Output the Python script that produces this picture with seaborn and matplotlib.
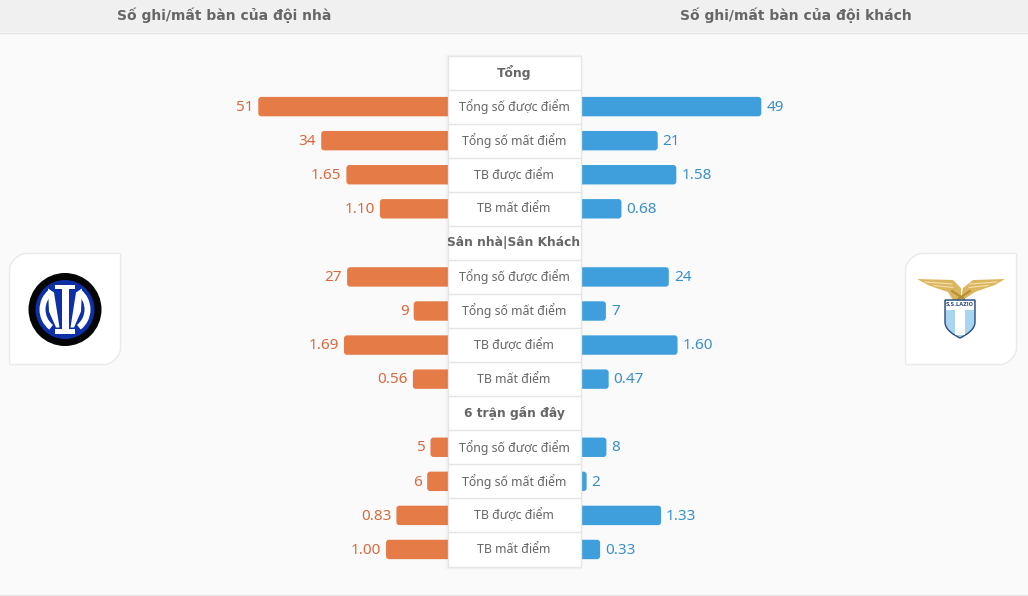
import pandas as pd
import matplotlib
matplotlib.use("Agg")
import matplotlib.pyplot as plt
import seaborn as sns
from matplotlib.patches import FancyBboxPatch, Circle, Polygon, PathPatch, Rectangle, Wedge
from matplotlib.path import Path

# === data === #
title_home = "Số ghi/mất bàn của đội nhà"
title_away = "Số ghi/mất bàn của đội khách"

# rows top to bottom, the section headers have no bars
rows = ["Tổng",
        "Tổng số được điểm", "Tổng số mất điểm", "TB được điểm", "TB mất điểm",
        "Sân nhà|Sân Khách",
        "Tổng số được điểm", "Tổng số mất điểm", "TB được điểm", "TB mất điểm",
        "6 trận gần đây",
        "Tổng số được điểm", "Tổng số mất điểm", "TB được điểm", "TB mất điểm"]
is_header = [True, False, False, False, False,
             True, False, False, False, False,
             True, False, False, False, False]

home_text = ["", "51", "34", "1.65", "1.10",
             "", "27", "9", "1.69", "0.56",
             "", "5", "6", "0.83", "1.00"]
away_text = ["", "49", "21", "1.58", "0.68",
             "", "24", "7", "1.60", "0.47",
             "", "8", "2", "1.33", "0.33"]
# every row of the original has its own scale
row_max = [1, 100, 100, 6.07, 6.07,
           1, 100, 100, 6.07, 6.07,
           1, 112, 112, 6.07, 6.07]

W, H = 1028, 596
ORANGE = "#e57c48"
ORANGE_TXT = "#d9693f"
BLUE = "#3f9fdc"
BLUE_TXT = "#3a8fc9"
GREY = "#666666"
LEFT_END, RIGHT_START = 447, 580
BAR_SPAN = 370

sns.set_theme(style="white")
plt.rcParams["font.family"] = ["DejaVu Sans"]

df = pd.DataFrame({"row": [str(i) for i in range(len(rows))],
                   "home": [float(t) if t else float("nan") for t in home_text],
                   "away": [float(t) if t else float("nan") for t in away_text],
                   "scale": row_max})
df["home_len"] = df["home"] / df["scale"]
df["away_len"] = df["away"] / df["scale"]

fig = plt.figure(figsize=(W / 100, H / 100), dpi=100, facecolor="#fafafa")


def px_axes(z):
    a = fig.add_axes([0, 0, 1, 1], zorder=z)
    a.set_xlim(0, W)
    a.set_ylim(H, 0)
    a.axis("off")
    a.patch.set_alpha(0)
    return a


def bar_axes(x0):
    return fig.add_axes([x0 / W, 1 - 566.5 / H, BAR_SPAN / W, 511 / H], zorder=2)


bg = px_axes(1)
top = px_axes(5)

# header strip
bg.add_patch(Rectangle((0, 0), W, 32, fc="#f0f0f0", ec="none"))
bg.plot([0, W], [32.5, 32.5], color="#e3e3e3", lw=1)
bg.plot([0, W], [594.5, 594.5], color="#e8e8e8", lw=1)
bg.text(224, 15.5, title_home, ha="center", va="center", fontsize=10.0, fontweight="bold", color=GREY)
bg.text(796, 15.5, title_away, ha="center", va="center", fontsize=10.0, fontweight="bold", color=GREY)

# bars
order = list(df["row"])
ax_l = bar_axes(LEFT_END - BAR_SPAN)
sns.barplot(data=df, x="home_len", y="row", order=order, color=ORANGE, saturation=1, width=0.57, ax=ax_l)
ax_l.set_xlim(1, 0)
ax_r = bar_axes(RIGHT_START)
sns.barplot(data=df, x="away_len", y="row", order=order, color=BLUE, saturation=1, width=0.57, ax=ax_r)
ax_r.set_xlim(0, 1)

for a, side in ((ax_l, -1), (ax_r, 1)):
    a.axis("off")
    a.patch.set_alpha(0)
    to_px = a.transData + bg.transData.inverted()
    for bar in a.patches:
        if not bar.get_width() > 0:
            continue
        (x0, y0), (x1, y1) = to_px.transform([(bar.get_x(), bar.get_y()),
                                              (bar.get_x() + bar.get_width(), bar.get_y() + bar.get_height())])
        # tuck the inner end under the card, only the outer end shows its corners
        if side < 0:
            x_a, x_b = x1, x0 + 8
        else:
            x_a, x_b = x0 - 8, x1
        y_a, y_b = min(y0, y1), max(y0, y1)
        bg.add_patch(FancyBboxPatch((x_a, y_a), x_b - x_a, y_b - y_a,
                                    boxstyle="round,pad=0,rounding_size=3",
                                    fc=bar.get_facecolor(), ec="none", zorder=3))
        bar.set_visible(False)

for i, (lt, rt) in enumerate(zip(home_text, away_text)):
    if not lt:
        continue
    ax_l.annotate(lt, (df["home_len"][i], i), xytext=(-5 * 0.72, -0.5), textcoords="offset points",
                  ha="right", va="center", fontsize=11.0, color=ORANGE_TXT, family="Noto Sans")
    ax_r.annotate(rt, (df["away_len"][i], i), xytext=(5 * 0.72, -0.5), textcoords="offset points",
                  ha="left", va="center", fontsize=11.0, color=BLUE_TXT, family="Noto Sans")

# centre card with the row names
for k, al in ((2, 0.012), (1, 0.02)):
    bg.add_patch(Rectangle((447 - k, 55 - k + 1), 134 + 2 * k, 512 + 2 * k, fc="black", alpha=al, ec="none", zorder=4))
top.add_patch(Rectangle((447.5, 55.5), 133, 511, fc="white", ec="#e6e6e6", lw=1))
row_h = 511 / len(rows)
for i, label in enumerate(rows):
    yc = 55.5 + row_h * (i + 0.5)
    if i > 0:
        top.plot([448, 580], [55.5 + row_h * i] * 2, color="#e4e4e4", lw=1)
    if is_header[i]:
        top.text(514, yc, label, ha="center", va="center", fontsize=8.8, fontweight="bold", color=GREY,
                 family="DejaVu Sans")
    else:
        top.text(514, yc, label, ha="center", va="center", fontsize=8.9, color=GREY, family="Noto Sans")


# logo cards, top left and bottom right corners are round
def logo_card(x0, y0, x1, y1, r=16):
    k = r * 0.45
    verts = [(x0 + r, y0), (x1, y0), (x1, y1 - r), (x1, y1 - r + k), (x1 - r + k, y1), (x1 - r, y1),
             (x0, y1), (x0, y0 + r), (x0, y0 + r - k), (x0 + r - k, y0), (x0 + r, y0)]
    codes = [Path.MOVETO, Path.LINETO, Path.LINETO, Path.CURVE4, Path.CURVE4, Path.CURVE4,
             Path.LINETO, Path.LINETO, Path.CURVE4, Path.CURVE4, Path.CURVE4]
    bg.add_patch(PathPatch(Path(verts, codes), fc="white", ec="#e9e9e9", lw=1))


logo_card(9.5, 253.5, 120.5, 364.5)
logo_card(905.5, 253.5, 1016.5, 364.5)

# Inter badge
cx, cy = 65, 309.5
INTER_BLUE = "#0d2fa8"
bg.add_patch(Circle((cx, cy), 36.5, fc="#050505", ec="none", zorder=3))
bg.add_patch(Circle((cx, cy), 29.5, fc=INTER_BLUE, ec="none", zorder=3))
bg.add_patch(Wedge((cx, cy), 25.5, 128, 232, width=6, fc="white", ec="none", zorder=3))
bg.add_patch(Wedge((cx, cy), 25.5, -52, 52, width=6, fc="white", ec="none", zorder=3))
inter_shapes = [
    [(cx - 10, cy - 25), (cx + 10, cy - 25), (cx + 10, cy - 21), (cx + 3.5, cy - 21), (cx + 3.5, cy + 19),
     (cx + 10, cy + 19), (cx + 10, cy + 24), (cx - 10, cy + 24), (cx - 10, cy + 19), (cx - 3.5, cy + 19),
     (cx - 3.5, cy - 21), (cx - 10, cy - 21)],
    [(cx - 17, cy - 21), (cx - 11, cy - 17), (cx - 5.5, cy + 18), (cx - 9, cy + 18), (cx - 16, cy + 2)],
    [(cx + 17, cy - 21), (cx + 11, cy - 17), (cx + 5.5, cy + 18), (cx + 9, cy + 18), (cx + 16, cy + 2)],
]
for pts in inter_shapes:
    bg.add_patch(Polygon(pts, fc="white", ec="none", zorder=3))

# Lazio badge
GOLD = "#dcb65e"
GOLD_DARK = "#b58f3a"
wing_l = [(917, 279), (953, 280), (961, 288), (961, 300), (953, 300), (948, 292), (936, 288), (928, 285)]
wing_r = [(1005, 279), (973, 280), (963, 288), (961, 300), (966, 298), (975, 292), (986, 288), (995, 285)]
bg.add_patch(Polygon(wing_l, fc=GOLD, ec="none", zorder=3))
bg.add_patch(Polygon(wing_r, fc=GOLD, ec="none", zorder=3))
for y_off, x_a, x_b in ((282, 925, 952), (285.5, 934, 953)):
    bg.plot([x_a, x_b], [y_off, y_off + 2], color="#f3e2b0", lw=0.8, zorder=3)
    bg.plot([2 * 961 - x_a, 2 * 961 - x_b], [y_off, y_off + 2], color="#f3e2b0", lw=0.8, zorder=3)
bg.plot([952, 964], [291, 299], color=GOLD_DARK, lw=1.6, zorder=3)
bg.plot([970, 958], [291, 299], color=GOLD_DARK, lw=1.6, zorder=3)

shield = Path([(945, 300), (975, 300), (975, 322), (975, 330), (966, 335), (960, 338),
               (954, 335), (945, 330), (945, 322), (945, 300)],
              [Path.MOVETO, Path.LINETO, Path.LINETO, Path.CURVE4, Path.CURVE4, Path.CURVE4,
               Path.CURVE4, Path.CURVE4, Path.CURVE4, Path.CLOSEPOLY])
bg.add_patch(PathPatch(shield, fc="#a8d5f0", ec="#2c4a7c", lw=1, zorder=3))
bg.add_patch(Rectangle((955, 309), 10, 26, fc="white", ec="none", zorder=3))
bg.add_patch(Rectangle((946, 300.5), 28, 9, fc="white", ec="none", zorder=3))
bg.text(960, 305, "S.S.LAZIO", ha="center", va="center", fontsize=3.6, fontweight="bold", color="#2c4a7c", zorder=4)

fig.savefig("out.png", dpi=100, facecolor=fig.get_facecolor())
